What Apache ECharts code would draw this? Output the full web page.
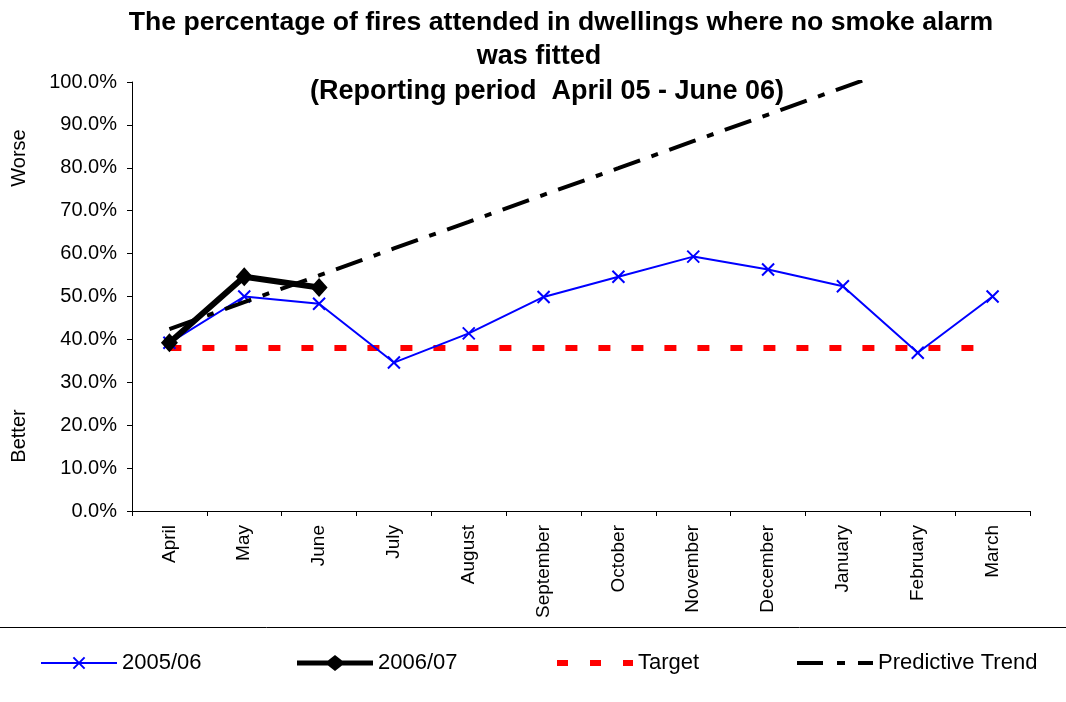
<!DOCTYPE html>
<html>
<head>
<meta charset="utf-8">
<script src="https://cdn.jsdelivr.net/npm/echarts@6/dist/echarts.min.js"></script>
<style>html,body{margin:0;padding:0;background:#fff}#c{width:1066px;height:702px}</style>
</head>
<body>
<div id="c"></div>
<script>
var months = ['April','May','June','July','August','September','October','November','December','January','February','March'];
var s2005 = [39.2, 50.0, 48.3, 34.6, 41.4, 49.9, 54.6, 59.3, 56.3, 52.4, 36.9, 50.0];
var s2006 = [39.2, 54.6, 52.1, null, null, null, null, null, null, null, null, null];
var target = [38, 38, 38, 38, 38, 38, 38, 38, 38, 38, 38, 38];
var trend = [42.4, 48.7, 54.9, 61.2, 67.4, 73.7, 79.9, 86.2, 92.4, 98.7, 104.9, 111.2];
var titleLines = ['The percentage of fires attended in dwellings where no smoke alarm', 'was fitted', '(Reporting period  April 05 - June 06)'];
var seriesNames = ['2005/06', '2006/07', 'Target', 'Predictive Trend'];

var FONT = 'Liberation Sans, Arial, sans-serif';
var chart = echarts.init(document.getElementById('c'));
var xMark = 'path://M0,0L10,10M10,0L0,10';
var icon2006 = 'path://M0,5.5H31L38,0L45,5.5H76V10.5H45L38,16L31,10.5H0Z';
var iconTarget = 'path://M0,0H11V6H0Z M33,0H44V6H33Z M66,0H76V6H66Z';
var iconTrend = 'path://M0,0H26V4H0Z M40,0H48V4H40Z M61,0H76V4H61Z';

function lg(name, left, icon, h) {
  var item = {name: name};
  if (icon) item.icon = icon;
  return {
    data: [item], left: left, top: 652, orient: 'horizontal',
    itemWidth: 76, itemHeight: h, itemGap: 0, symbolKeepAspect: false,
    textStyle: {fontFamily: FONT, fontSize: 22, color: '#000'},
    padding: 0, selectedMode: false
  };
}

function tl(text, cx, top, size) {
  return {text: text, left: cx, textAlign: 'center', top: top, padding: 0,
    textStyle: {fontFamily: FONT, fontSize: size, fontWeight: 'bold', color: '#000'}};
}

chart.setOption({
  animation: false,
  backgroundColor: '#fff',
  title: [tl(titleLines[0], 561, 9, 26.6), tl(titleLines[1], 539, 43, 27), tl(titleLines[2], 547, 78, 27)],
  legend: [
    lg(seriesNames[0], 40, null, 14),
    lg(seriesNames[1], 297, icon2006, 16),
    lg(seriesNames[2], 557, iconTarget, 6),
    lg(seriesNames[3], 797, iconTrend, 4)
  ],
  grid: {left: 132, right: 36, top: 82, bottom: 191, containLabel: false},
  xAxis: {
    type: 'category', data: months, boundaryGap: true,
    axisLine: {lineStyle: {color: '#000', width: 1}},
    axisTick: {show: true, length: 5, inside: false, lineStyle: {color: '#000'}},
    axisLabel: {rotate: 90, margin: 14, fontFamily: FONT, fontSize: 19, color: '#000', interval: 0},
    splitLine: {show: false}
  },
  yAxis: {
    type: 'value', min: 0, max: 100, interval: 10,
    axisLine: {show: true, lineStyle: {color: '#000', width: 1}},
    axisTick: {show: true, length: 5, lineStyle: {color: '#000'}},
    axisLabel: {fontFamily: FONT, fontSize: 20, color: '#000', margin: 15, formatter: function (v) { return v.toFixed(1) + '%'; }},
    splitLine: {show: false}
  },
  graphic: [
    {type: 'line', shape: {x1: 0, y1: 627.5, x2: 1066, y2: 627.5}, style: {stroke: '#000', lineWidth: 1}},
    {type: 'text', x: 19, y: 158, rotation: Math.PI / 2, style: {text: 'Worse', fontFamily: FONT, fontSize: 20, fill: '#000', align: 'center', verticalAlign: 'middle'}},
    {type: 'text', x: 19, y: 436, rotation: Math.PI / 2, style: {text: 'Better', fontFamily: FONT, fontSize: 20, fill: '#000', align: 'center', verticalAlign: 'middle'}}
  ],
  series: [
    {
      name: seriesNames[2], type: 'line', data: target, symbol: 'none', z: 2,
      lineStyle: {color: '#ff0000', width: 6, type: [12, 21], cap: 'butt'},
      itemStyle: {color: '#ff0000'}
    },
    {
      name: seriesNames[0], type: 'line', data: s2005, symbol: xMark, symbolSize: 12, z: 3,
      lineStyle: {color: '#0000ff', width: 2},
      itemStyle: {color: '#0000ff', borderColor: '#0000ff', borderWidth: 2}
    },
    {
      name: seriesNames[3], type: 'line', data: trend, symbol: 'none', z: 4, clip: true,
      lineStyle: {color: '#000', width: 4, type: [28, 12, 7, 12], cap: 'butt'},
      itemStyle: {color: '#000'}
    },
    {
      name: seriesNames[1], type: 'line', data: s2006, symbol: 'diamond', symbolSize: [17, 19], z: 5,
      lineStyle: {color: '#000', width: 6},
      itemStyle: {color: '#000'}
    }
  ]
});
</script>
</body>
</html>
